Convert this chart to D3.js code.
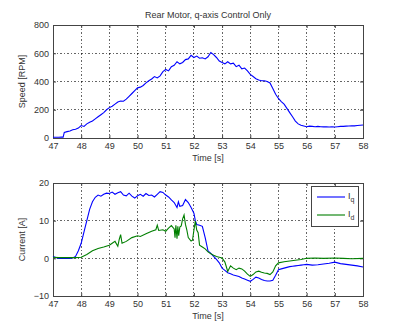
<!DOCTYPE html>
<html>
<head>
<meta charset="utf-8">
<script src="https://cdn.jsdelivr.net/npm/d3@7"></script>
<style>
  html, body { margin: 0; padding: 0; background: #fff; }
  svg text { font-family: "Liberation Sans", Arial, sans-serif; fill: #333; }
</style>
</head>
<body>
<svg id="fig" width="400" height="332"></svg>
<script>
// Speed trace [RPM]
const speedTime = [47.0,47.1,47.2,47.3,47.36,47.4,47.5,47.6,47.7,47.8,47.9,48.0,48.1,48.2,48.3,48.4,48.5,48.6,48.7,48.8,48.9,
  49.0,49.1,49.2,49.3,49.4,49.5,49.6,49.7,49.8,49.9,50.0,50.1,50.2,50.3,50.4,50.5,50.6,50.7,50.8,50.9,
  51.0,51.1,51.2,51.3,51.4,51.5,51.6,51.7,51.8,51.9,52.0,52.1,52.2,52.3,52.4,52.5,52.6,52.7,52.8,52.9,
  53.0,53.1,53.2,53.3,53.4,53.5,53.6,53.7,53.8,53.9,54.0,54.1,54.2,54.3,54.4,54.5,54.6,54.7,54.8,54.9,
  55.0,55.1,55.2,55.3,55.4,55.5,55.6,55.7,55.8,55.9,56.0,56.1,56.2,56.3,56.4,56.5,56.6,56.7,56.8,56.9,
  57.0,57.1,57.2,57.3,57.4,57.5,57.6,57.7,57.8,57.9,58.0];
const speedRPM = [5,5,5,6,6,40,45,50,58,62,70,88,82,100,112,120,135,150,165,180,200,
  215,225,240,255,262,260,275,295,315,335,355,360,372,390,405,418,435,425,440,470,
  485,475,505,515,540,525,535,555,560,585,570,580,565,568,560,575,605,590,570,545,
  535,525,540,525,530,505,515,490,495,475,450,435,420,410,405,405,400,390,350,310,
  280,258,240,210,180,150,120,100,90,85,80,84,82,80,82,80,79,80,78,80,
  78,80,82,82,84,85,86,86,88,90,92];

// q-axis current [A]
const iqTime = [47.0,47.1,47.2,47.3,47.4,47.5,47.6,47.7,47.8,47.9,48.0,48.1,48.2,48.3,48.4,48.5,48.6,48.7,48.8,48.9,
  49.0,49.1,49.2,49.3,49.4,49.5,49.6,49.7,49.8,49.9,50.0,50.1,50.2,50.3,50.4,50.5,50.6,50.7,50.8,50.9,
  51.0,51.1,51.2,51.3,51.4,51.45,51.5,51.6,51.7,51.8,51.9,52.0,52.05,52.1,52.2,52.3,52.4,52.5,52.6,52.7,52.8,52.9,
  53.0,53.1,53.2,53.3,53.4,53.5,53.6,53.7,53.8,53.9,54.0,54.1,54.2,54.3,54.4,54.5,54.6,54.7,54.8,54.9,
  55.0,55.1,55.2,55.3,55.4,55.5,55.6,55.7,55.8,55.9,56.0,56.2,56.4,56.6,56.8,57.0,57.2,57.4,57.6,57.8,58.0];
const iqAmp = [0.5,0.2,0.0,0.0,0.0,0.0,0.0,0.1,0.5,2.0,4.0,7.0,10.0,13.0,15.0,16.2,16.8,16.5,17.0,17.3,
  17.2,17.6,17.0,17.4,17.7,16.8,16.6,17.3,16.5,16.0,16.6,17.0,16.5,17.2,16.7,16.8,16.3,17.0,17.7,17.5,
  16.8,16.3,15.5,14.8,13.5,15.0,13.8,14.0,15.6,14.8,13.5,12.0,10.0,9.0,8.8,8.5,5.5,2.0,1.3,0.5,-0.3,-1.2,
  -2.6,-3.2,-3.8,-4.1,-4.4,-4.6,-4.8,-5.2,-5.5,-5.8,-6.1,-5.6,-5.0,-5.2,-5.6,-5.9,-6.0,-6.0,-5.8,-4.5,
  -3.0,-2.8,-2.6,-2.4,-2.2,-2.1,-2.0,-1.9,-1.8,-1.7,-1.6,-1.8,-1.7,-1.5,-1.3,-1.0,-1.4,-1.6,-1.8,-2.0,-2.3];

// d-axis current [A]
const idTime = [47.0,47.2,47.4,47.6,47.8,48.0,48.2,48.4,48.6,48.8,49.0,49.1,49.2,49.3,49.35,49.4,49.45,49.6,49.8,
  50.0,50.1,50.3,50.5,50.65,50.7,50.75,50.9,51.0,51.1,51.2,51.3,51.33,51.36,51.4,51.43,51.46,51.5,51.55,51.6,51.65,51.7,51.75,51.8,51.9,51.95,52.0,52.05,52.1,52.15,52.2,52.3,52.4,52.5,52.6,52.7,52.8,52.9,
  53.0,53.1,53.2,53.3,53.4,53.5,53.6,53.7,53.8,53.9,54.0,54.1,54.2,54.3,54.4,54.5,54.6,54.7,54.8,54.9,
  55.0,55.2,55.4,55.6,55.8,56.0,56.3,56.6,57.0,57.3,57.6,58.0];
const idAmp = [0.3,0.2,0.2,0.2,0.2,0.3,1.0,2.0,2.6,3.0,3.5,4.0,4.5,3.2,5.0,6.3,4.0,4.5,5.5,
  6.0,5.8,6.5,7.2,7.6,8.8,7.4,7.6,7.2,8.0,8.7,7.8,5.5,8.8,5.2,8.5,6.0,8.3,8.6,10.5,11.5,9.0,7.5,5.5,4.6,4.8,7.5,9.9,7.5,6.8,3.5,3.0,2.5,1.7,1.2,0.8,0.5,0.3,
  0.1,-1.0,-3.5,-2.0,-2.6,-3.0,-2.6,-2.8,-3.4,-4.2,-4.8,-4.3,-3.6,-3.4,-3.7,-3.9,-4.0,-4.3,-3.6,-2.0,
  -1.2,-0.9,-0.7,-0.5,-0.3,0.0,0.1,0.0,0.1,0.0,-0.1,0.0];

const timeTicks = [47,48,49,50,51,52,53,54,55,56,57,58];
const speedTicks = [0,200,400,600,800];
const currentTicks = [-10,0,10,20];

const FS = 9;
const svg = d3.select("#fig");
const left = 53, right = 363;

const x = d3.scaleLinear().domain([47, 58]).range([left, right]);

function drawAxes(g, y, yTicks, top, bottom, yLabel) {
  // grid
  g.append("g").selectAll("line").data(timeTicks.slice(1, -1)).join("line")
    .attr("x1", d => x(d)).attr("x2", d => x(d)).attr("y1", top).attr("y2", bottom)
    .attr("stroke", "#000").attr("stroke-opacity", 0.6).attr("stroke-width", 1)
    .attr("stroke-dasharray", "1.5,2").attr("shape-rendering", "crispEdges");
  g.append("g").selectAll("line").data(yTicks.slice(1, -1)).join("line")
    .attr("x1", left).attr("x2", right).attr("y1", d => y(d)).attr("y2", d => y(d))
    .attr("stroke", "#000").attr("stroke-opacity", 0.6).attr("stroke-width", 1)
    .attr("stroke-dasharray", "1.5,2").attr("shape-rendering", "crispEdges");

  // frame axes, ticks pointing inward
  const xb = g.append("g").attr("transform", `translate(0,${bottom})`)
    .call(d3.axisBottom(x).tickValues(timeTicks).tickSize(-3).tickPadding(4.3).tickFormat(d3.format("d")));
  const xt = g.append("g").attr("transform", `translate(0,${top})`)
    .call(d3.axisTop(x).tickValues(timeTicks).tickSize(-3).tickFormat(""));
  const yl = g.append("g").attr("transform", `translate(${left},0)`)
    .call(d3.axisLeft(y).tickValues(yTicks).tickSize(-3).tickPadding(4).tickFormat(d3.format("d")));
  const yr = g.append("g").attr("transform", `translate(${right},0)`)
    .call(d3.axisRight(y).tickValues(yTicks).tickSize(-3).tickFormat(""));
  [xb, xt, yl, yr].forEach(a => {
    a.select(".domain").attr("stroke", "#444").attr("shape-rendering", "crispEdges");
    a.selectAll(".tick line").attr("stroke", "#444");
    a.selectAll("text").attr("font-size", FS).attr("fill", "#333");
  });

  g.append("text").attr("x", (left + right) / 2).attr("y", bottom + 22.5)
    .attr("text-anchor", "middle").attr("font-size", FS).text("Time [s]");
  g.append("text").attr("transform", `translate(25,${(top + bottom) / 2}) rotate(-90)`)
    .attr("text-anchor", "middle").attr("font-size", FS).text(yLabel);
}

// --- Speed panel ---
const topA = 25, botA = 138;
const yS = d3.scaleLinear().domain([0, 800]).range([botA, topA]);
const gA = svg.append("g");
drawAxes(gA, yS, speedTicks, topA, botA, "Speed [RPM]");
gA.append("path")
  .datum(speedTime.map((t, i) => [t, speedRPM[i]]))
  .attr("fill", "none").attr("stroke", "#0000ff").attr("stroke-width", 1.1)
  .attr("d", d3.line().x(d => x(d[0])).y(d => yS(d[1])));
gA.append("text").attr("x", (left + right) / 2).attr("y", 18)
  .attr("text-anchor", "middle").attr("font-size", FS).text("Rear Motor, q-axis Control Only");

// --- Current panel ---
const topB = 183, botB = 296;
const yC = d3.scaleLinear().domain([-10, 20]).range([botB, topB]);
const gB = svg.append("g");
drawAxes(gB, yC, currentTicks, topB, botB, "Current [A]");
const lineC = d3.line().x(d => x(d[0])).y(d => yC(d[1]));
gB.append("path")
  .datum(iqTime.map((t, i) => [t, iqAmp[i]]))
  .attr("fill", "none").attr("stroke", "#0000ff").attr("stroke-width", 1.1).attr("d", lineC);
gB.append("path")
  .datum(idTime.map((t, i) => [t, idAmp[i]]))
  .attr("fill", "none").attr("stroke", "#007f00").attr("stroke-width", 1.1).attr("d", lineC);

// legend
const series = [{ name: "q", color: "#0000ff" }, { name: "d", color: "#007f00" }];
const lg = gB.append("g");
lg.append("rect").attr("x", 311.5).attr("y", 186.5).attr("width", 47).attr("height", 40)
  .attr("fill", "#fff").attr("stroke", "#444").attr("stroke-width", 1);
series.forEach((s, i) => {
  const yy = 197 + i * 18;
  lg.append("line").attr("x1", 317).attr("x2", 345).attr("y1", yy).attr("y2", yy)
    .attr("stroke", s.color).attr("stroke-width", 1.1);
  const t = lg.append("text").attr("x", 348).attr("y", yy + 2).attr("font-size", FS);
  t.append("tspan").text("I");
  t.append("tspan").attr("dy", 3).attr("font-size", 7).text(s.name);
});
</script>
</body>
</html>
